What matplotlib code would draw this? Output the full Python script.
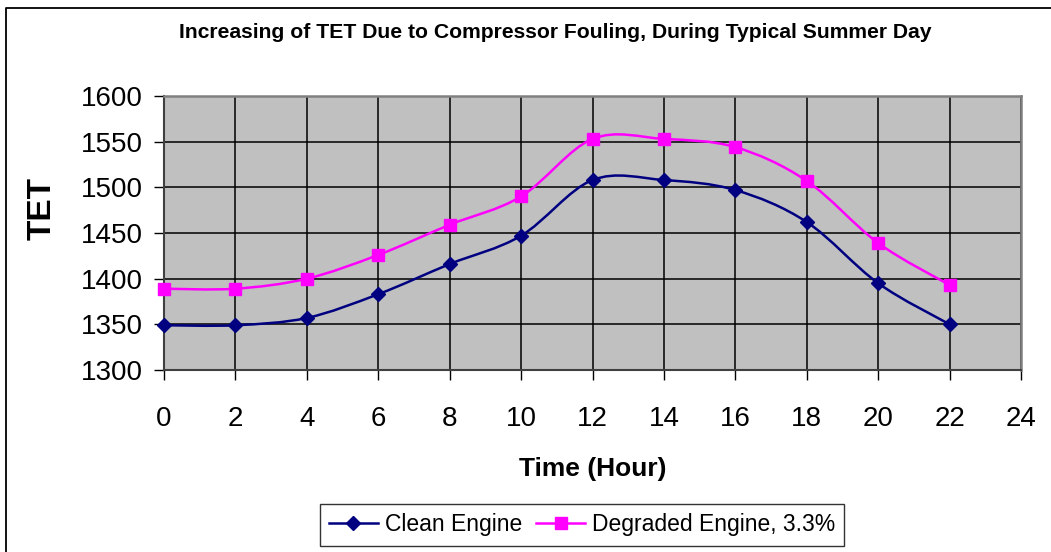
import numpy as np
import matplotlib
matplotlib.use("Agg")
import matplotlib.pyplot as plt
from matplotlib.path import Path
from matplotlib.patches import PathPatch
from matplotlib.lines import Line2D

hours = [0, 2, 4, 6, 8, 10, 12, 14, 16, 18, 20, 22]
clean_tet = [1349, 1349, 1357, 1383, 1416, 1447, 1508, 1508, 1497, 1462, 1395, 1350]
degraded_tet = [1389, 1389, 1400, 1426, 1459, 1490, 1553, 1553, 1544, 1507, 1439, 1393]

x_ticks = list(range(0, 25, 2))
y_ticks = list(range(1300, 1601, 50))

NAVY = "#000080"
MAGENTA = "#FF00FF"


def smooth_path(xs, ys):
    # spreadsheet-style smoothed line: cubic bezier segments with
    # Catmull-Rom tangents through every point
    pts = np.column_stack([xs, ys]).astype(float)
    n = len(pts)
    verts = [pts[0]]
    codes = [Path.MOVETO]
    for i in range(n - 1):
        p0 = pts[i - 1] if i > 0 else pts[i]
        p1 = pts[i]
        p2 = pts[i + 1]
        p3 = pts[i + 2] if i + 2 < n else pts[i + 1]
        c1 = p1 + (p2 - p0) / 6.0
        c2 = p2 - (p3 - p1) / 6.0
        verts += [c1, c2, p2]
        codes += [Path.CURVE4] * 3
    return Path(verts, codes)


plt.rcParams['font.family'] = ['Liberation Sans', 'DejaVu Sans']
fig = plt.figure(figsize=(10.51, 5.52), dpi=100)

W, H = 1051, 552
ax = fig.add_axes([164 / W, 1 - 370 / H, (1021 - 164) / W, (370 - 96) / H])
ax.set_facecolor("#C0C0C0")

for ys, col, mk, ms in [(clean_tet, NAVY, "D", 7), (degraded_tet, MAGENTA, "s", 8)]:
    ax.add_patch(PathPatch(smooth_path(hours, ys), facecolor="none",
                           edgecolor=col, lw=1.8, zorder=3))
    ax.plot(hours, ys, linestyle="none", marker=mk, ms=ms, color=col,
            markeredgecolor=col, zorder=4, clip_on=False)

ax.set_xlim(0, 24)
ax.set_ylim(1300, 1600)
ax.set_xticks(x_ticks)
ax.set_yticks(y_ticks)
ax.grid(True, color="black", lw=1.1)
ax.set_axisbelow(True)
ax.tick_params(direction="out", length=7, width=1, colors="black",
               labelsize=20)
ax.tick_params(axis="x", pad=19)
ax.tick_params(axis="y", pad=8)
for s in ["top", "right"]:
    ax.spines[s].set_color("#808080")
    ax.spines[s].set_linewidth(1.8)
for s in ["left", "bottom"]:
    ax.spines[s].set_color("#404040")
    ax.spines[s].set_linewidth(1.5)

ax.set_xlabel("Time (Hour)", fontsize=19, fontweight="bold", labelpad=18)
ax.set_ylabel("TET", fontsize=24, fontweight="bold")
ax.yaxis.set_label_coords((58 - 164) / (1021 - 164), (370 - 209) / (370 - 96))

fig.text(555 / W, 1 - 33 / H,
         "Increasing of TET Due to Compressor Fouling, During Typical Summer Day",
         ha="center", va="center", fontsize=15.2, fontweight="bold")

handles = [
    Line2D([], [], color=NAVY, lw=1.8, marker="D", ms=7),
    Line2D([], [], color=MAGENTA, lw=1.8, marker="s", ms=8),
]
leg = fig.legend(handles, ["Clean Engine", "Degraded Engine, 3.3%"],
                 loc="center", bbox_to_anchor=(582 / W, 1 - 525 / H), ncol=2,
                 fontsize=16.5, frameon=True, fancybox=False, edgecolor="black",
                 handlelength=2.15, handletextpad=0.3, columnspacing=0.6,
                 borderpad=0.4)
leg.get_frame().set_linewidth(1.0)

# chart border along the top and left edges
fig.add_artist(Line2D([6 / W, 6 / W, 1.0], [0.0, 1 - 8 / H, 1 - 8 / H],
                      transform=fig.transFigure, color="black", lw=1.3))

fig.savefig("out.png", dpi=100)
